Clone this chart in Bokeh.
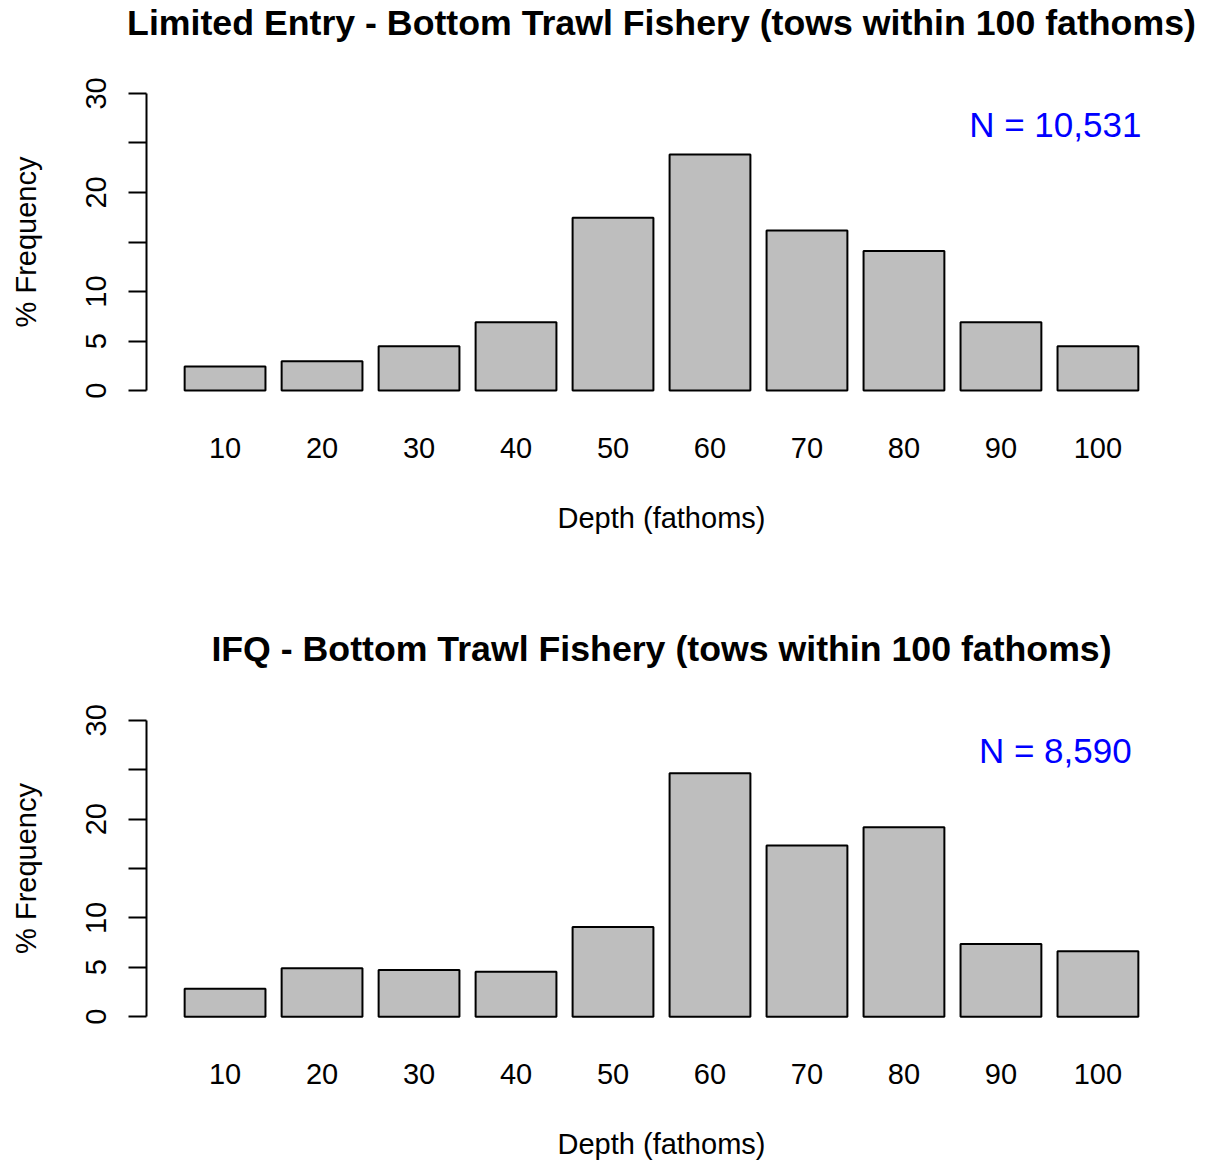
from bokeh.plotting import figure
from bokeh.layouts import column
from bokeh.models import Range1d, FixedTicker, ColumnDataSource
from bokeh.core.properties import value
from bokeh.embed import file_html
from bokeh.resources import INLINE
import numpy as np

depths = ["10", "20", "30", "40", "50", "60", "70", "80", "90", "100"]
le_pct = [2.43, 2.96, 4.48, 6.90, 17.46, 23.83, 16.15, 14.09, 6.90, 4.48]
ifq_pct = [2.83, 4.89, 4.72, 4.55, 9.07, 24.64, 17.33, 19.18, 7.35, 6.61]
titles = ["Limited Entry - Bottom Trawl Fishery (tows within 100 fathoms)",
          "IFQ - Bottom Trawl Fishery (tows within 100 fathoms)"]
n_labels = ["N = 10,531", "N = 8,590"]
y_ticks = [0, 5, 10, 15, 20, 25, 30]

FONT = "Liberation Sans"
W = 1206
TITLE_H = 60
PLOT_H = 321
LEFT, RIGHT = 146, 30


def make_title(text):
    t = figure(width=W, height=TITLE_H, output_backend="svg", toolbar_location=None,
               x_range=Range1d(0, 1), y_range=Range1d(0, 1), title=text,
               min_border_left=LEFT, min_border_right=RIGHT, min_border_top=0, min_border_bottom=0)
    t.outline_line_color = None
    t.grid.visible = False
    t.axis.visible = False
    t.title.align = "center"
    t.title.text_font = FONT
    t.title.text_font_size = "35.7px"
    t.title.text_font_style = "bold"
    t.title.text_color = "black"
    t.title.standoff = 0
    return t


def make_panel(vals, nlab, height, top_border):
    p = figure(width=W, height=height, output_backend="svg", toolbar_location=None,
               x_range=Range1d(-0.81, 9.81), y_range=Range1d(-1.2, 31.2),
               min_border_left=LEFT, min_border_right=RIGHT, min_border_top=top_border,
               min_border_bottom=height - top_border - PLOT_H)
    p.outline_line_color = None
    p.grid.visible = False
    x = list(np.arange(len(depths)))
    src = ColumnDataSource(dict(x=x, top=vals))
    p.vbar(x="x", top="top", bottom=0, width=1 / 1.2, source=src,
           fill_color="#bebebe", line_color="black", line_width=2)

    xa = p.xaxis[0]
    xa.ticker = FixedTicker(ticks=x)
    xa.major_label_overrides = {int(i): d for i, d in zip(x, depths)}
    xa.axis_line_color = None
    xa.major_tick_line_color = None
    xa.minor_tick_line_color = None
    xa.major_tick_out = 0
    xa.major_tick_in = 0
    xa.major_label_standoff = 35
    xa.major_label_text_font = FONT
    xa.major_label_text_font_size = "29px"
    xa.major_label_text_color = "black"
    xa.axis_label = "Depth (fathoms)"
    xa.axis_label_text_font = FONT
    xa.axis_label_text_font_size = "29px"
    xa.axis_label_text_font_style = "normal"
    xa.axis_label_text_color = "black"
    xa.axis_label_standoff = 41

    ya = p.yaxis[0]
    ya.ticker = FixedTicker(ticks=y_ticks)
    ya.major_label_overrides = {15: "", 25: ""}
    ya.bounds = (0, 30)
    ya.axis_line_width = 2
    ya.major_tick_line_width = 2
    ya.major_tick_out = 18
    ya.major_tick_in = 0
    ya.minor_tick_line_color = None
    ya.major_label_orientation = "vertical"
    ya.major_label_standoff = 22
    ya.major_label_text_font = FONT
    ya.major_label_text_font_size = "29px"
    ya.major_label_text_color = "black"
    ya.axis_label = "% Frequency"
    ya.axis_label_text_font = FONT
    ya.axis_label_text_font_size = "29px"
    ya.axis_label_text_font_style = "normal"
    ya.axis_label_text_color = "black"
    ya.axis_label_standoff = 42

    p.text(x=[8.56], y=[26.9], text=[nlab], text_align="center", text_baseline="middle",
           text_color="blue", text_font_size="35px", text_font=value(FONT))
    return p


t1 = make_title(titles[0])
p1 = make_panel(le_pct, n_labels[0], 626 - TITLE_H, 81 - TITLE_H)
t2 = make_title(titles[1])
p2 = make_panel(ifq_pct, n_labels[1], 536 - TITLE_H, 82 - TITLE_H)
layout = column(t1, p1, t2, p2, spacing=0)

open("out.html", "w").write(file_html(layout, INLINE))
